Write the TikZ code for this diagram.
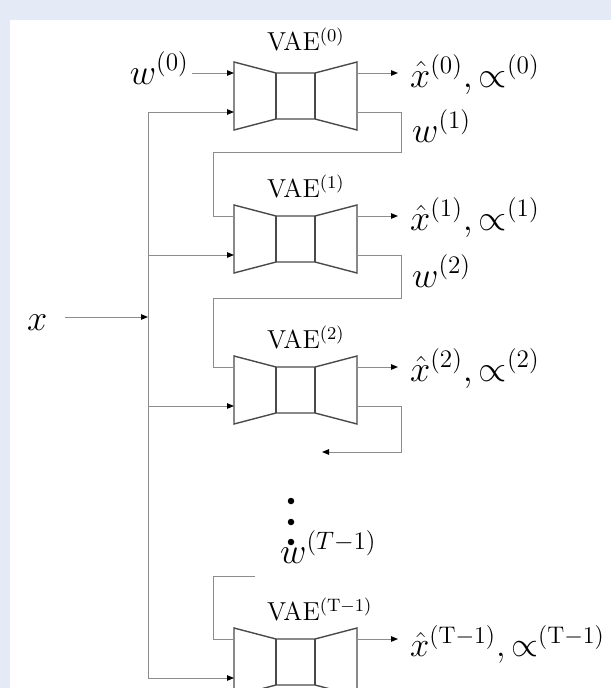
\documentclass[tikz,border=0pt]{standalone}
\usepackage{graphicx}
\usetikzlibrary{arrows.meta,calc}
\definecolor{bgblue}{HTML}{E4EBF6}
\definecolor{conngray}{HTML}{8C8C8C}
\definecolor{blockgray}{HTML}{4A4A4A}
\newcommand{\lblmath}[2][2.1]{\scalebox{#1}{$#2$}}
\newcommand{\vaet}[1]{\scalebox{2}{VAE$^{(#1)}$}}
\tikzset{
  conn/.style={draw=conngray, line width=1pt},
  arr/.style={conn, -{Triangle[length=7pt,width=5.5pt,color=black]}},
  mathlbl/.style={inner sep=0pt, font=\fontsize{17.28}{20}\selectfont},
  vaelbl/.style={inner sep=0pt, anchor=base west, font=\fontsize{13}{15}\selectfont},
  blockline/.style={draw=blockgray, line width=1.4pt, line join=miter},
  dotn/.style={circle, fill=black, inner sep=0pt, minimum size=6.5pt},
  vae/.pic={
    \draw[blockline] (-61.5,-34) -- (-19.5,-23) -- (19.5,-23) -- (61.5,-34) -- (61.5,34)
      -- (19.5,23) -- (-19.5,23) -- (-61.5,34) -- cycle;
    \draw[blockline] (-19.5,-23) -- (-19.5,23) (19.5,-23) -- (19.5,23);
    \coordinate (-inTop) at (-61.5,-23);
    \coordinate (-inBot) at (-61.5,16);
    \coordinate (-outTop) at (61.5,-23);
    \coordinate (-outBot) at (61.5,16);
  }
}
\begin{document}
\begin{tikzpicture}[x=1pt,y=-1pt]
\useasboundingbox (0,0) rectangle (611,688);
\clip (0,0) rectangle (611,688);
\fill[bgblue] (0,0) rectangle (611,688);
\fill[white] (10,20) rectangle (611,688);

% blocks
\pic (b0) at (295.5,96) {vae};
\pic (b1) at (295.5,239) {vae};
\pic (b2) at (295.5,390) {vae};
\pic (bT) at (295.5,662) {vae};

% block titles
\node[vaelbl] (v0) at (267,50) {\vaet{0}};
\node[vaelbl] (v1) at (267,197) {\vaet{1}};
\node[vaelbl] (v2) at (267,348) {\vaet{2}};
\node[vaelbl] (vT) at (267,620) {\vaet{\mathrm{T}-1}};

% labels
\node[mathlbl, anchor=base east] (w0) at (189,84) {\lblmath{w^{(0)}}};
\node[mathlbl, anchor=base west] (xl) at (27,330) {\lblmath{x}};
\node[mathlbl, anchor=base west] (o0) at (410,87) {\lblmath{\hat{x}^{(0)},\propto^{(0)}}};
\node[mathlbl, anchor=base west] (o1) at (410,230) {\lblmath{\hat{x}^{(1)},\propto^{(1)}}};
\node[mathlbl, anchor=base west] (o2) at (410,381) {\lblmath{\hat{x}^{(2)},\propto^{(2)}}};
\node[mathlbl, anchor=base west] (oT) at (410,656) {\lblmath[2]{\hat{x}^{(\mathrm{T}-1)},\propto^{(\mathrm{T}-1)}}};
\node[mathlbl, anchor=base west] (w1) at (412,142) {\lblmath{w^{(1)}}};
\node[mathlbl, anchor=base west] (w2) at (412,287) {\lblmath{w^{(2)}}};
\node[mathlbl, anchor=base west] (wT) at (280,563) {\lblmath{w^{(T-1)}}};

% dots
\node[dotn] (d1) at (291,501) {};
\node[dotn] (d2) at (291,522) {};
\node[dotn] (d3) at (291,542) {};

% input w0
\draw[arr] ($(w0.east |- b0-inTop)+(3,0)$) -- (b0-inTop);

% outputs
\foreach \b/\o in {b0/o0,b1/o1,b2/o2,bT/oT}
  \draw[arr] (\b-outTop) -- ($(\o.west |- \b-outTop)+(-12,0)$);

% feedback lines
\draw[conn] (b0-outBot) -- ++(44,0) -- ++(0,40) -| ($(b1-inTop)+(-21,0)$) -- (b1-inTop);
\draw[conn] (b1-outBot) -- ++(44,0) -- ++(0,43) -| ($(b2-inTop)+(-21,0)$) -- (b2-inTop);
\coordinate (c2end) at (322,452);
\draw[arr] (b2-outBot) -- ++(44,0) |- (c2end);
\coordinate (cTst) at (255,576);
\draw[conn] (cTst) -| ($(bT-inTop)+(-21,0)$) -- (bT-inTop);

% x bus
\coordinate (bus) at (148,317);
\draw[arr] ($(xl.east |- bus)+(17,0)$) -- (bus);
\draw[conn] (bus |- b0-inBot) -- (bus |- bT-inBot);
\foreach \b in {b0,b1,b2,bT}
  \draw[arr] (bus |- \b-inBot) -- (\b-inBot);
\end{tikzpicture}
\end{document}
